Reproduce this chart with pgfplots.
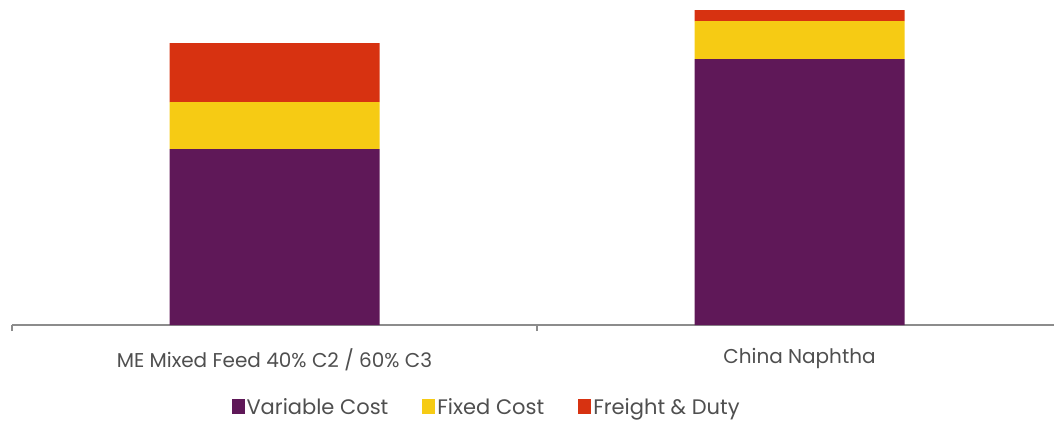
\documentclass[border=0pt]{standalone}
\usepackage{fontspec}
\setmainfont{Poppins}
\usepackage{pgfplots}
\pgfplotsset{compat=1.18}

\definecolor{varcost}{HTML}{5F1858}
\definecolor{fixcost}{HTML}{F6CB14}
\definecolor{freight}{HTML}{D73211}
\definecolor{labelgray}{HTML}{4F4F4F}
\definecolor{axisgray}{HTML}{8C8C8C}

\begin{document}
\begin{tikzpicture}
\begin{axis}[
  at={(0,0)}, anchor=south west,
  scale only axis,
  width=1050pt, height=325pt,
  ybar stacked,
  bar width=0.4,
  xmin=-0.5, xmax=1.5,
  ymin=0, ymax=325,
  axis y line=none,
  axis x line=bottom,
  x axis line style={-, draw=axisgray, line width=1.1pt},
  xtick={0,1},
  xticklabels={ME Mixed Feed 40\% C2 / 60\% C3, China Naphtha},
  major tick length=0pt,
  extra x ticks={-0.5,0.5,1.5},
  extra x tick labels={},
  extra x tick style={major tick length=6pt, tick align=outside,
    tick style={draw=axisgray, line width=1.1pt}},
  xticklabel style={font=\fontsize{20}{22}\selectfont, text=labelgray, yshift=-20pt},
  legend columns=3,
  legend style={at={(0.452,-0.252)}, anchor=center, draw=none, fill=none,
    font=\fontsize{21}{23}\selectfont, text=labelgray,
    /tikz/every even column/.append style={column sep=32pt}},
  legend image code/.code={\fill[#1] (0pt,-7pt) rectangle (13pt,8pt);},
]
% Variable cost
\addplot[fill=varcost, draw=none] coordinates {(0,176) (1,266)};
% Fixed cost
\addplot[fill=fixcost, draw=none] coordinates {(0,47) (1,38)};
% Freight and duty
\addplot[fill=freight, draw=none] coordinates {(0,59) (1,11)};
\legend{Variable Cost, Fixed Cost, Freight \& Duty}
\end{axis}
\pgfresetboundingbox
\path[use as bounding box] (-12pt,-96pt) rectangle (1042pt,325pt);
\end{tikzpicture}
\end{document}
